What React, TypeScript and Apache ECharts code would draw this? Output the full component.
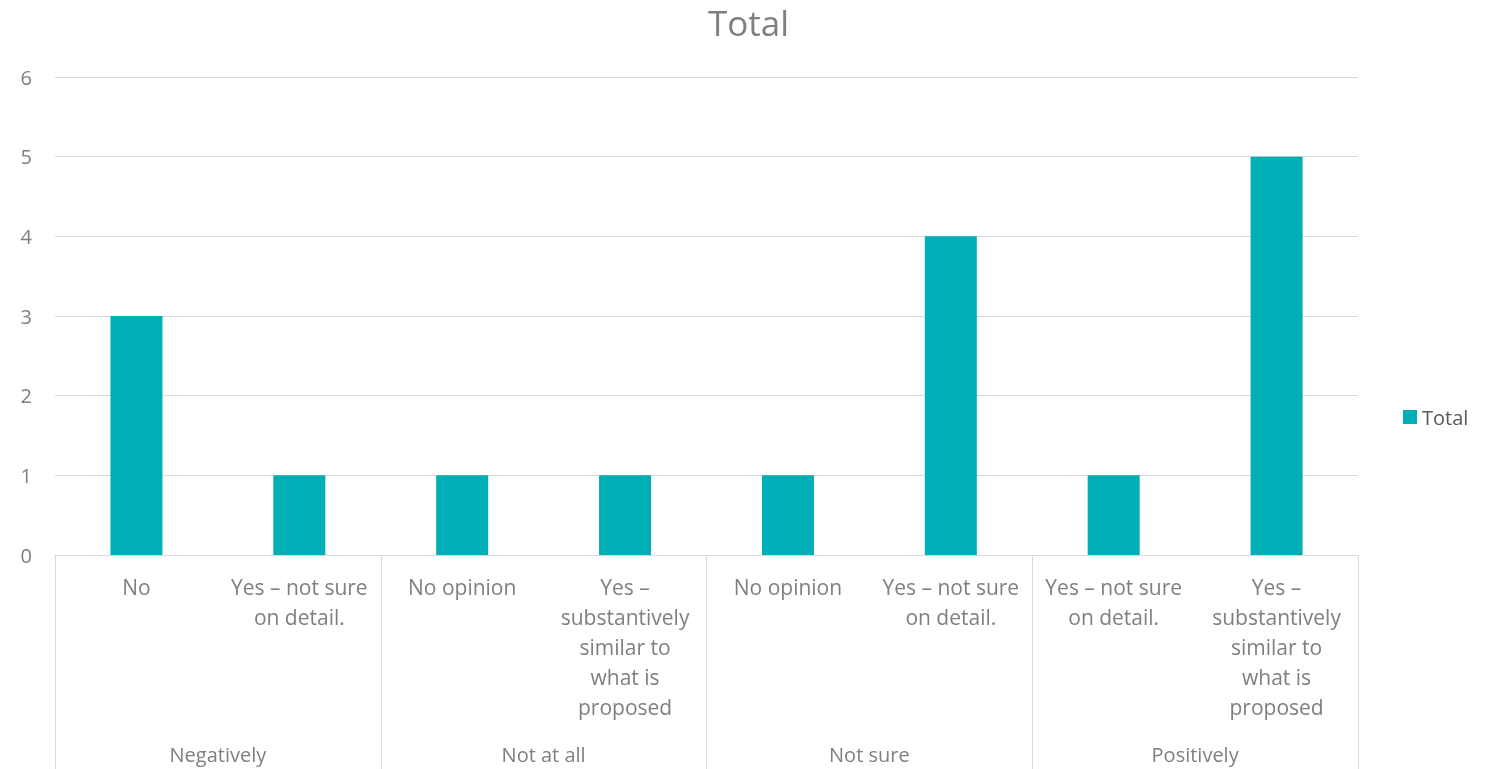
import React, { useEffect, useRef } from "react";
import * as echarts from "echarts";

const categories = [
  "No",
  "Yes – not sure\non detail.",
  "No opinion",
  "Yes –\nsubstantively\nsimilar to\nwhat is\nproposed",
  "No opinion",
  "Yes – not sure\non detail.",
  "Yes – not sure\non detail.",
  "Yes –\nsubstantively\nsimilar to\nwhat is\nproposed",
];
const groups = ["Negatively", "Not at all", "Not sure", "Positively"];
const totals = [3, 1, 1, 1, 1, 4, 1, 5];
const yTicks = { min: 0, max: 6, interval: 1 };

const FONT = "'Open Sans', 'Noto Sans', sans-serif";
const GRAY = "#7f7f7f";
const LINE = "#d9d9d9";

export default function App() {
  const ref = useRef<HTMLDivElement>(null);
  useEffect(() => {
    const chart = echarts.init(ref.current!, null, { renderer: "svg" });
    chart.setOption({
      animation: false,
      textStyle: { fontFamily: FONT },
      title: {
        text: "Total",
        left: 703,
        top: 0,
        textStyle: { fontFamily: FONT, fontSize: 35, fontWeight: "normal", color: GRAY },
      },
      legend: {
        orient: "vertical",
        left: 1398,
        top: 402,
        itemWidth: 14,
        itemHeight: 14,
        itemGap: 6,
        icon: "rect",
        textStyle: { fontFamily: FONT, fontSize: 20, color: "#595959" },
        data: ["Total"],
      },
      grid: { left: 55, right: 131, top: 77, bottom: 214, containLabel: false },
      xAxis: [
        {
          type: "category",
          data: categories,
          axisLine: { show: true, lineStyle: { color: LINE, width: 1 } },
          axisTick: { show: false },
          axisLabel: {
            interval: 0,
            margin: 17,
            color: GRAY,
            fontFamily: FONT,
            fontSize: 21,
            lineHeight: 30,
            align: "center",
          },
        },
        {
          type: "category",
          data: groups,
          position: "bottom",
          axisLine: { show: false },
          axisTick: { show: true, length: 214, interval: 0, lineStyle: { color: LINE, width: 1 } },
          axisLabel: {
            interval: 0,
            margin: 188,
            color: GRAY,
            fontFamily: FONT,
            fontSize: 20,
            lineHeight: 22,
          },
        },
      ],
      yAxis: {
        type: "value",
        min: yTicks.min,
        max: yTicks.max,
        interval: yTicks.interval,
        axisLine: { show: false },
        axisTick: { show: false },
        splitLine: { lineStyle: { color: LINE, width: 1 } },
        axisLabel: { color: GRAY, fontFamily: FONT, fontSize: 20, margin: 23 },
      },
      series: [
        {
          name: "Total",
          type: "bar",
          xAxisIndex: 0,
          data: totals,
          barWidth: 52,
          itemStyle: { color: "#00AEB5" },
        },
      ],
    });
    return () => chart.dispose();
  }, []);
  return (
    <div
      ref={ref}
      style={{ position: "fixed", left: 0, top: 0, width: 1489, height: 769 }}
    />
  );
}
